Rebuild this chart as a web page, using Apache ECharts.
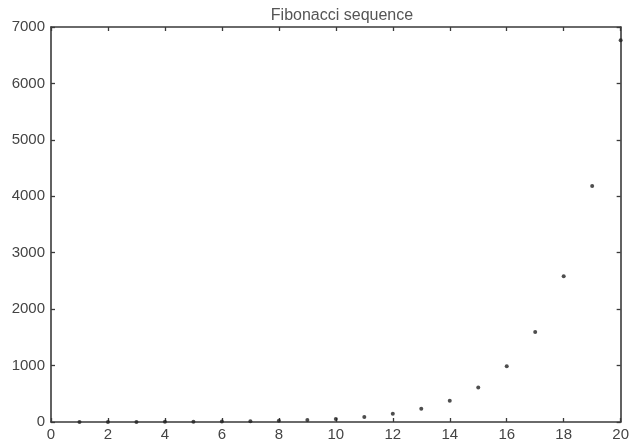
<!DOCTYPE html>
<html><head><meta charset="utf-8">
<script src="https://cdn.jsdelivr.net/npm/echarts@6/dist/echarts.min.js"></script>
<style>html,body{margin:0;padding:0;background:#fff}#c{width:632px;height:446px}</style>
</head><body><div id="c"></div>
<script>
const titleText = "Fibonacci sequence";
const xValues = [1,2,3,4,5,6,7,8,9,10,11,12,13,14,15,16,17,18,19,20];
const yValues = [1,1,2,3,5,8,13,21,34,55,89,144,233,377,610,987,1597,2584,4181,6765];
const data = xValues.map((x,i)=>[x,yValues[i]]);
const chart = echarts.init(document.getElementById('c'));
const lineCol = '#3a3a3a';
const font = '"Liberation Sans", Arial, sans-serif';
const axCommon = {
  axisLine:{show:true,onZero:false,lineStyle:{color:lineCol,width:1.6}},
  axisTick:{show:true,inside:true,length:4,lineStyle:{color:lineCol,width:1.3}},
  splitLine:{show:false}
};
chart.setOption({
  animation:false,
  title:{text:titleText,left:337,top:3,textAlign:'center',textStyle:{fontFamily:font,fontSize:16,fontWeight:'normal',color:'#555'}},
  grid:{left:51,right:8,top:27,bottom:24,containLabel:false},
  xAxis:[
    Object.assign({type:'value',min:0,max:20,interval:2,position:'bottom',
      axisLabel:{fontFamily:font,fontSize:15,color:'#444',margin:5,formatter:v=>String(v)}},axCommon),
    Object.assign({type:'value',min:0,max:20,interval:2,position:'top',axisLabel:{show:false}},axCommon)
  ],
  yAxis:[
    Object.assign({type:'value',min:0,max:7000,interval:1000,position:'left',
      axisLabel:{fontFamily:font,fontSize:15,color:'#444',margin:6,formatter:v=>String(v)}},axCommon),
    Object.assign({type:'value',min:0,max:7000,interval:1000,position:'right',axisLabel:{show:false}},axCommon)
  ],
  series:[{type:'scatter',data:data,symbol:'circle',symbolSize:4,itemStyle:{color:'#222'}}]
});
</script></body></html>
